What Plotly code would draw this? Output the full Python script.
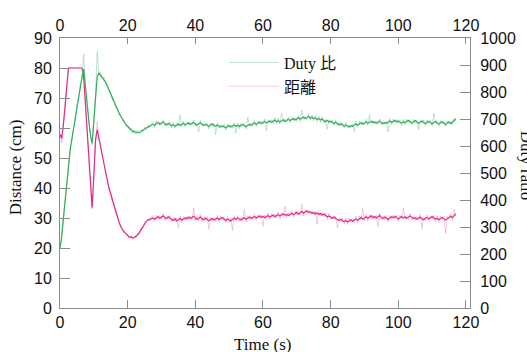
import plotly.graph_objects as go

# time axis (s), sampled every 0.5 s
time_s = [i * 0.5 for i in range(235)]

# distance (cm), smoothed
dist_main = [
    58, 56.5, 61, 68, 74, 80, 80, 80, 80, 80, 80, 80, 80, 80,
    77, 68, 59, 50, 40, 33.5,
    44, 56, 59.5, 57, 54, 51, 48, 45, 42.5, 40,
    38, 36, 34, 32, 30, 28.5, 27, 26, 25.3, 24.8,
    24.0, 23.6, 23.7, 23.4, 23.5, 23.9, 24.4, 25.2, 26.1, 27.1,
    28.2, 28.9, 29.3, 29.6, 29.9,
    30.0, 29.6, 30.2, 30.5, 29.9, 30.3, 30.7, 30.1, 29.8, 30.4,
    30.0, 29.5, 29.2, 29.7, 29.0, 29.4, 29.9, 29.3, 29.6, 30.1,
    29.7, 30.3, 29.8, 30.2, 30.6, 30.0, 29.6, 29.9, 30.3, 29.7,
    29.4, 30.0, 29.6, 29.1, 29.5, 29.8, 29.3, 29.7, 30.0, 29.5,
    29.8, 30.2, 29.6, 29.2, 29.7, 29.4, 29.0, 29.5, 29.9, 29.6,
    30.0, 29.7, 29.3, 29.8, 30.1, 29.6, 29.9, 30.3, 29.8, 30.2,
    30.5, 30.0, 30.3, 30.7, 30.2, 30.6, 30.1, 30.4, 30.8, 30.3,
    30.6, 31.0, 30.4, 30.8, 31.2, 30.7, 31.0, 31.4, 30.9, 31.2,
    30.8, 31.3, 31.6, 31.1, 31.5, 31.9, 31.3, 31.7, 32.2, 31.6,
    32.0, 32.4, 31.8, 32.1, 31.5, 31.9, 31.3, 31.7, 31.2, 31.5,
    31.0, 31.3, 30.8, 30.4, 30.7, 30.2, 29.9, 30.3, 29.7, 29.4,
    29.2, 29.6, 29.0, 28.8, 29.2, 28.7, 29.0, 29.4, 28.9, 29.3,
    29.7, 29.2, 29.8, 30.2, 29.6, 30.0, 30.4, 29.9, 30.3, 30.7,
    30.1, 30.5, 30.0, 30.4, 30.8, 30.2, 29.8, 30.3, 29.9, 29.5,
    30.0, 30.4, 30.1, 30.6, 30.2, 29.7, 30.1, 30.5, 30.0, 30.4,
    29.9, 30.3, 30.7, 30.2, 29.8, 30.1, 29.6, 30.0, 30.3, 29.7,
    29.4, 29.9, 30.2, 29.7, 30.1, 30.5, 30.0, 29.6, 29.9, 29.4,
    29.8, 30.2, 29.7, 29.3, 29.8, 30.2, 30.6, 30.1, 30.9, 31.4,
]

# distance (cm), raw
dist_raw = [
    58, 55, 62, 67, 75, 80, 80, 80, 80, 80, 80, 80, 80, 80,
    77, 67, 60, 49, 41, 33,
    46, 55, 62, 56, 55, 50, 49, 44, 43, 39,
    38.5, 35, 34.5, 31, 30.5, 28, 27.5, 25.5, 25.8, 24.2,
    24.5, 23.0, 24.3, 22.8, 24.0, 23.4, 25.0, 24.6, 26.7, 26.5,
    28.8, 28.4, 29.8, 29.1, 30.4,
    30.9, 28.8, 31.0, 29.6, 30.8, 29.4, 31.6, 29.2, 30.7, 29.5,
    30.9, 28.6, 30.1, 28.8, 29.9, 26.6, 30.8, 28.4, 30.5, 29.2,
    30.6, 29.4, 30.7, 29.3, 33.4, 29.1, 30.5, 29.0, 31.2, 28.8,
    30.3, 29.1, 30.5, 26.2, 30.4, 28.9, 30.2, 28.8, 30.9, 28.6,
    30.7, 29.3, 30.5, 28.3, 30.6, 28.5, 29.9, 25.9, 30.8, 28.7,
    30.9, 28.8, 30.2, 28.9, 33.0, 28.7, 30.8, 29.4, 30.7, 29.3,
    31.4, 29.1, 31.2, 29.8, 31.1, 27.2, 31.0, 29.5, 31.7, 29.4,
    31.5, 30.1, 31.3, 29.9, 32.1, 29.8, 31.9, 30.5, 33.9, 30.3,
    31.7, 30.4, 32.5, 30.2, 32.4, 31.0, 32.2, 30.8, 34.6, 30.7,
    32.9, 31.5, 32.7, 31.2, 32.4, 31.0, 32.2, 27.9, 32.1, 30.6,
    31.9, 30.4, 31.7, 29.5, 31.6, 29.3, 30.8, 29.4, 30.6, 26.7,
    30.1, 28.7, 29.9, 27.9, 30.1, 27.8, 29.9, 28.5, 29.8, 28.4,
    30.6, 28.3, 30.7, 29.3, 33.2, 29.1, 31.3, 29.0, 31.2, 29.8,
    31.0, 29.6, 30.9, 27.0, 31.7, 29.3, 30.7, 29.4, 30.8, 28.6,
    30.9, 29.5, 31.0, 29.7, 31.1, 28.8, 31.0, 29.6, 33.4, 29.5,
    30.8, 29.4, 31.6, 29.3, 30.7, 29.2, 30.5, 29.1, 31.2, 26.4,
    30.3, 29.0, 31.1, 28.8, 31.0, 29.6, 30.9, 28.7, 30.8, 28.5,
    30.7, 29.3, 30.6, 24.9, 30.7, 29.3, 31.5, 29.2, 32.9, 30.5,
]

# duty ratio, smoothed
duty_main = [
    222, 265, 330, 400, 470, 540, 585, 625, 665, 705, 745, 780, 820, 855,
    885, 830, 760, 695, 640, 610,
    695, 795, 858, 870, 862, 856, 848, 836, 821, 806,
    791, 776, 761, 746, 733, 721, 709, 698, 688, 679,
    672, 665, 659, 655, 652, 650, 650, 651, 654, 658,
    662, 667, 671, 675, 678,
    681, 676, 684, 687, 680, 685, 689, 682, 678, 684,
    680, 675, 679, 673, 677, 682, 676, 680, 684, 678,
    682, 686, 680, 684, 688, 681, 677, 682, 686, 680,
    676, 681, 677, 672, 678, 682, 676, 673, 678, 674,
    670, 675, 671, 667, 672, 676, 670, 674, 678, 673,
    677, 672, 676, 680, 675, 671, 676, 680, 677, 682,
    686, 680, 684, 689, 683, 687, 691, 685, 689, 693,
    688, 692, 696, 690, 694, 689, 693, 697, 691, 695,
    699, 694, 698, 702, 696, 700, 705, 699, 703, 707,
    701, 706, 710, 703, 707, 701, 704, 698, 702, 696,
    700, 694, 690, 695, 689, 692, 687, 683, 688, 682,
    678, 683, 677, 673, 678, 674, 670, 676, 672, 678,
    682, 677, 683, 687, 681, 686, 690, 684, 688, 692,
    686, 690, 684, 688, 692, 686, 682, 687, 683, 689,
    693, 687, 691, 695, 689, 693, 688, 684, 690, 686,
    691, 695, 689, 685, 690, 694, 688, 684, 689, 693,
    687, 683, 688, 692, 686, 682, 687, 691, 685, 681,
    686, 690, 684, 680, 685, 689, 683, 688, 694, 700,
]

# duty ratio, raw
duty_raw = [
    222, 258, 336, 395, 476, 535, 590, 620, 670, 700, 750, 776, 826, 850,
    940, 825, 765, 685, 645, 604,
    701, 790, 950, 863, 876, 848, 856, 828, 829, 799,
    798, 769, 767, 739, 740, 714, 716, 692, 695, 673,
    679, 658, 666, 648, 659, 643, 658, 644, 661, 651,
    670, 661, 678, 668, 685,
    690, 669, 693, 680, 688, 677, 698, 674, 686, 676,
    689, 667, 687, 665, 686, 674, 714, 672, 692, 670,
    691, 678, 689, 676, 697, 673, 685, 652, 694, 672,
    685, 673, 686, 664, 687, 674, 684, 642, 686, 666,
    679, 667, 680, 659, 681, 668, 679, 666, 687, 647,
    686, 664, 685, 672, 684, 663, 707, 672, 686, 674,
    695, 672, 693, 681, 692, 679, 700, 657, 698, 685,
    697, 684, 705, 682, 703, 681, 722, 689, 700, 687,
    708, 686, 707, 694, 705, 692, 714, 691, 732, 699,
    710, 698, 719, 695, 716, 693, 713, 690, 711, 688,
    709, 686, 699, 662, 698, 684, 696, 675, 697, 674,
    687, 675, 686, 665, 687, 666, 679, 668, 681, 652,
    691, 669, 692, 679, 690, 678, 699, 676, 717, 684,
    695, 682, 693, 680, 701, 678, 691, 679, 692, 652,
    702, 679, 700, 687, 698, 685, 697, 676, 699, 678,
    700, 687, 698, 677, 699, 686, 697, 660, 698, 685,
    696, 675, 697, 684, 695, 674, 722, 683, 694, 673,
    695, 682, 693, 672, 694, 681, 692, 680, 703, 692,
]

x_ticks = [0, 20, 40, 60, 80, 100, 120]
left_ticks = [0, 10, 20, 30, 40, 50, 60, 70, 80, 90]
right_ticks = [0, 100, 200, 300, 400, 500, 600, 700, 800, 900, 1000]

GREEN = "rgb(52,172,92)"
PINK = "rgb(226,42,134)"
GREEN_PALE = "rgba(110,200,150,0.45)"
PINK_PALE = "rgba(240,120,175,0.40)"

serif = "Times New Roman, Liberation Serif, Noto Sans CJK JP, serif"
sans = "Arial, Liberation Sans, sans-serif"

fig = go.Figure()
fig.add_trace(go.Scatter(x=time_s, y=duty_raw, mode="lines", name="Duty 比",
                         line=dict(color=GREEN_PALE, width=1), yaxis="y2",
                         legendrank=1))
fig.add_trace(go.Scatter(x=time_s, y=dist_raw, mode="lines", name="距離",
                         line=dict(color=PINK_PALE, width=1), yaxis="y",
                         legendrank=2))
fig.add_trace(go.Scatter(x=time_s, y=duty_main, mode="lines", showlegend=False,
                         line=dict(color=GREEN, width=1.2), yaxis="y2"))
fig.add_trace(go.Scatter(x=time_s, y=dist_main, mode="lines", showlegend=False,
                         line=dict(color=PINK, width=1.2), yaxis="y"))
# invisible trace for the top axis
fig.add_trace(go.Scatter(x=[0, 120], y=[None, None], xaxis="x2", showlegend=False,
                         hoverinfo="skip"))

axis_common = dict(showline=True, linecolor="#8c8c8c", linewidth=1,
                   ticks="inside", tickcolor="#8c8c8c", showgrid=False,
                   zeroline=False, automargin=False,
                   tickfont=dict(family=sans, size=16, color="#111"))

fig.update_layout(
    width=527, height=352,
    margin=dict(l=60, r=57, t=38, b=44, autoexpand=False),
    paper_bgcolor="white", plot_bgcolor="white",
    xaxis=dict(range=[0, 121.2], tickvals=x_ticks, ticklen=8, **axis_common),
    xaxis2=dict(range=[0, 121.2], tickvals=x_ticks, ticklen=6, overlaying="x",
                side="top", matches="x", **axis_common),
    yaxis=dict(range=[0, 90], tickvals=left_ticks, ticklen=10,
               ticklabelstandoff=4, **axis_common),
    yaxis2=dict(range=[0, 1000], tickvals=right_ticks, ticklen=10,
                overlaying="y", side="right", ticklabelstandoff=6, **axis_common),
    legend=dict(x=0.40, y=0.972, xanchor="left", yanchor="top",
                bgcolor="rgba(0,0,0,0)", font=dict(family=serif, size=16, color="#111"),
                itemwidth=50, tracegroupgap=2),
    showlegend=True,
    annotations=[
        dict(text="Distance (cm)", xref="paper", yref="paper", x=-0.108, y=0.52,
             xanchor="center", yanchor="middle", textangle=-90, showarrow=False,
             font=dict(family=serif, size=17, color="#111")),
        dict(text="Duty ratio", xref="paper", yref="paper", x=1.137, y=0.53,
             xanchor="center", yanchor="middle", textangle=90, showarrow=False,
             font=dict(family=serif, size=17, color="#111")),
        dict(text="Time (s)", xref="paper", yref="paper", x=0.493, y=-0.135,
             xanchor="center", yanchor="middle", showarrow=False,
             font=dict(family=serif, size=17, color="#111")),
    ],
)

fig.write_html("out.html", config={"displayModeBar": False})

# remove the default page margin so the figure sits at the window's corner
with open("out.html", encoding="utf-8") as f:
    page = f.read()
page = page.replace("<head>", "<head><style>html,body{margin:0;padding:0;overflow:hidden;}</style>", 1)
with open("out.html", "w", encoding="utf-8") as f:
    f.write(page)
